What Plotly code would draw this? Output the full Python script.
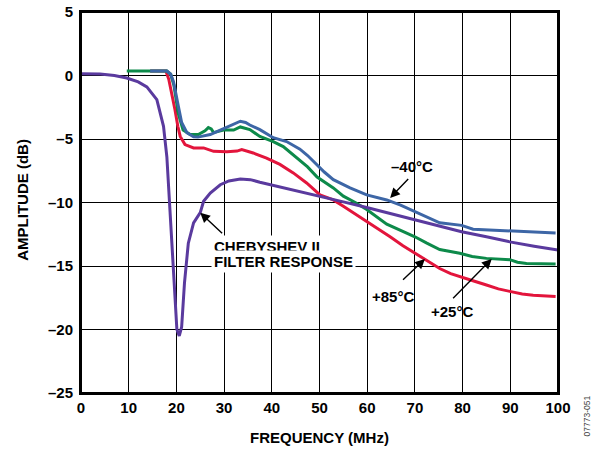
import plotly.graph_objects as go

# Chebyshev II filter response
cheb_f = [0, 4, 7, 9.6, 12, 13.8, 15.9, 17.3, 18.0, 18.6, 19.0, 19.5, 20.1, 20.6, 21.1,
          21.7, 22.5, 23.6, 25.0, 25.7, 27.1, 29.2, 31, 33.4, 35.5, 37.5, 41, 44.5, 50,
          55, 59.9, 65, 70, 75, 79.8, 85, 89.9, 95, 100]
cheb_db = [0.13, 0.12, 0.0, -0.2, -0.5, -0.9, -1.9, -4.0, -6.4, -10.3, -12.8, -16.3, -20.0,
           -20.5, -19.8, -16.3, -13.2, -11.6, -10.8, -9.9, -9.25, -8.6, -8.3, -8.15, -8.2,
           -8.4, -8.7, -9.05, -9.5, -9.95, -10.4, -10.9, -11.35, -11.85, -12.3, -12.7,
           -13.1, -13.45, -13.75]

# -40 C
m40_f = [14.5, 18, 18.8, 19.4, 20.4, 21.1, 22.2, 23.6, 24.5, 26, 27.1, 29.2, 30.5, 31.3,
         32.5, 33.4, 34.5, 35.4, 37.5, 40.3, 43.1, 45.9, 47.5, 49.4, 51, 52.9, 56.4, 59.9,
         62, 64.1, 67, 70, 72.5, 75.2, 79.8, 82.2, 87.8, 93, 99.5]
m40_db = [0.35, 0.35, 0.1, -0.5, -2.4, -3.7, -4.5, -4.83, -4.85, -4.75, -4.65, -4.3, -4.1,
          -3.95, -3.75, -3.6, -3.7, -3.9, -4.26, -4.9, -5.2, -5.8, -6.3, -7.0, -7.6, -8.2,
          -8.85, -9.4, -9.6, -9.8, -10.2, -10.7, -11.1, -11.6, -11.8, -12.1, -12.2, -12.3,
          -12.4]

# +25 C
p25_f = [9.6, 18, 18.8, 19.5, 20.4, 21.4, 22.9, 24.6, 26.0, 26.7, 27.3, 27.8, 29.9, 32,
         33.4, 35.4, 37.5, 40.3, 42.4, 44.5, 45.9, 47.5, 49.5, 52.9, 55, 57.5, 59.9, 62,
         64.1, 67, 70, 72.5, 75.2, 79.4, 82, 85, 89.9, 91.5, 93.4, 99.5]
p25_db = [0.35, 0.35, 0.1, -0.8, -3.0, -4.3, -4.65, -4.65, -4.35, -4.1, -4.2, -4.5, -4.3,
          -4.3, -4.05, -4.26, -4.8, -5.2, -5.6, -6.25, -6.7, -7.2, -8.0, -8.85, -9.5, -10.0,
          -10.55, -11.1, -11.7, -12.2, -12.7, -13.2, -13.7, -14.0, -14.25, -14.4, -14.5,
          -14.7, -14.8, -14.85]

# +85 C
p85_f = [14.5, 17.8, 18.4, 19.0, 19.7, 20.3, 20.8, 21.8, 23.6, 25.7, 27.8, 30.6, 32.7,
         33.7, 36.1, 38.9, 41.7, 44.5, 46, 47.3, 50.1, 52.9, 55, 57.5, 59.9, 62.5, 64.8,
         67.5, 70, 72.5, 75.2, 77.5, 79.8, 82.5, 85, 87.5, 89.9, 92.5, 94.8, 99.5]
p85_db = [0.35, 0.35, -0.3, -1.3, -2.7, -4.0, -4.8, -5.44, -5.7, -5.7, -5.97, -6.0, -5.95,
          -5.83, -6.1, -6.5, -7.0, -7.67, -8.07, -8.46, -9.4, -9.8, -10.3, -10.9, -11.5,
          -12.1, -12.7, -13.4, -14.0, -14.6, -15.2, -15.6, -15.9, -16.2, -16.5, -16.8,
          -17.0, -17.2, -17.3, -17.4]

x_ticks = [0, 10, 20, 30, 40, 50, 60, 70, 80, 90, 100]
y_ticks = [5, 0, -5, -10, -15, -20, -25]
y_labels = ['5', '0', '–5', '–10', '–15', '–20', '–25']

FONT = 'Liberation Sans'

fig = go.Figure()

fig.add_trace(go.Scatter(x=p85_f, y=p85_db, mode='lines', name='+85°C',
                         line=dict(color='#E3153C', width=3)))
fig.add_trace(go.Scatter(x=p25_f, y=p25_db, mode='lines', name='+25°C',
                         line=dict(color='#0D8A4A', width=3)))
fig.add_trace(go.Scatter(x=m40_f, y=m40_db, mode='lines', name='−40°C',
                         line=dict(color='#3D66A6', width=3)))
fig.add_trace(go.Scatter(x=cheb_f, y=cheb_db, mode='lines', name='Chebyshev II',
                         line=dict(color='#5A3A9E', width=3)))

lbl = dict(family=FONT, size=15, color='black', weight=700)

annotations = []
# arrows (tip on curve, tail near the label)
arrows = [
    (64.8, -9.64, 68.9, -8.04),
    (72.1, -14.45, 67.2, -16.2),
    (86.1, -14.45, 77.7, -17.65),
    (25.0, -10.8, 29.9, -12.53),
]
for x, y, ax, ay in arrows:
    annotations.append(dict(x=x, y=y, ax=ax, ay=ay, xref='x', yref='y', axref='x', ayref='y',
                            text='', showarrow=True, arrowhead=2, arrowsize=1.4,
                            arrowwidth=1.4, arrowcolor='black'))

annotations += [
    dict(x=69.3, y=-7.15, text='–40°C', showarrow=False, font=lbl),
    dict(x=65.5, y=-17.4, text='+85°C', showarrow=False, font=lbl),
    dict(x=77.7, y=-18.6, text='+25°C', showarrow=False, font=lbl),
    dict(x=27.3, y=-13.46, text='CHEBYSHEV II', showarrow=False, font=lbl,
         xanchor='left', bgcolor='white', borderpad=2),
    dict(x=27.3, y=-14.64, text='FILTER RESPONSE', showarrow=False, font=lbl,
         xanchor='left', bgcolor='white', borderpad=2),
    dict(x=0.5, y=-0.1155, xref='paper', yref='paper', text='FREQUENCY (MHz)',
         xanchor='center', yanchor='middle', showarrow=False, font=lbl),
    dict(x=-0.1221, y=0.5066, xref='paper', yref='paper', text='AMPLITUDE (dB)',
         xanchor='center', yanchor='middle', textangle=-90, showarrow=False, font=lbl),
    dict(x=1.0616, y=-0.0604, xref='paper', yref='paper', text='07773-051',
         xanchor='center', yanchor='middle', textangle=-90, showarrow=False,
         font=dict(family=FONT, size=8.5, color='#444')),
]
for a in annotations:
    a.setdefault('xref', 'x')
    a.setdefault('yref', 'y')

fig.update_layout(
    width=598, height=449,
    margin=dict(l=81, r=40, t=12, b=56),
    plot_bgcolor='white', paper_bgcolor='white',
    showlegend=False,
    annotations=annotations,
)

# frame round the plot area
fig.add_shape(type='rect', xref='x domain', yref='y domain', x0=0, x1=1, y0=0, y1=1,
              line=dict(color='black', width=2), layer='above')

fig.update_xaxes(range=[0, 100], tickvals=x_ticks, ticks='', showgrid=True,
                 gridcolor='black', gridwidth=1.3, zeroline=False,
                 showline=True, linecolor='black', linewidth=2, mirror=True,
                 tickfont=lbl, ticklabelstandoff=0, automargin=False)
fig.update_yaxes(range=[-25, 5], tickvals=y_ticks, ticktext=y_labels, ticks='',
                 showgrid=True, gridcolor='black', gridwidth=1.3, zeroline=False,
                 showline=True, linecolor='black', linewidth=2, mirror=True,
                 tickfont=lbl, ticklabelstandoff=3, automargin=False)

# drop the default page margin so the figure sits at the window's corner
fig.write_html("out.html", config={'displayModeBar': False},
               post_script="document.body.style.margin='0';")
